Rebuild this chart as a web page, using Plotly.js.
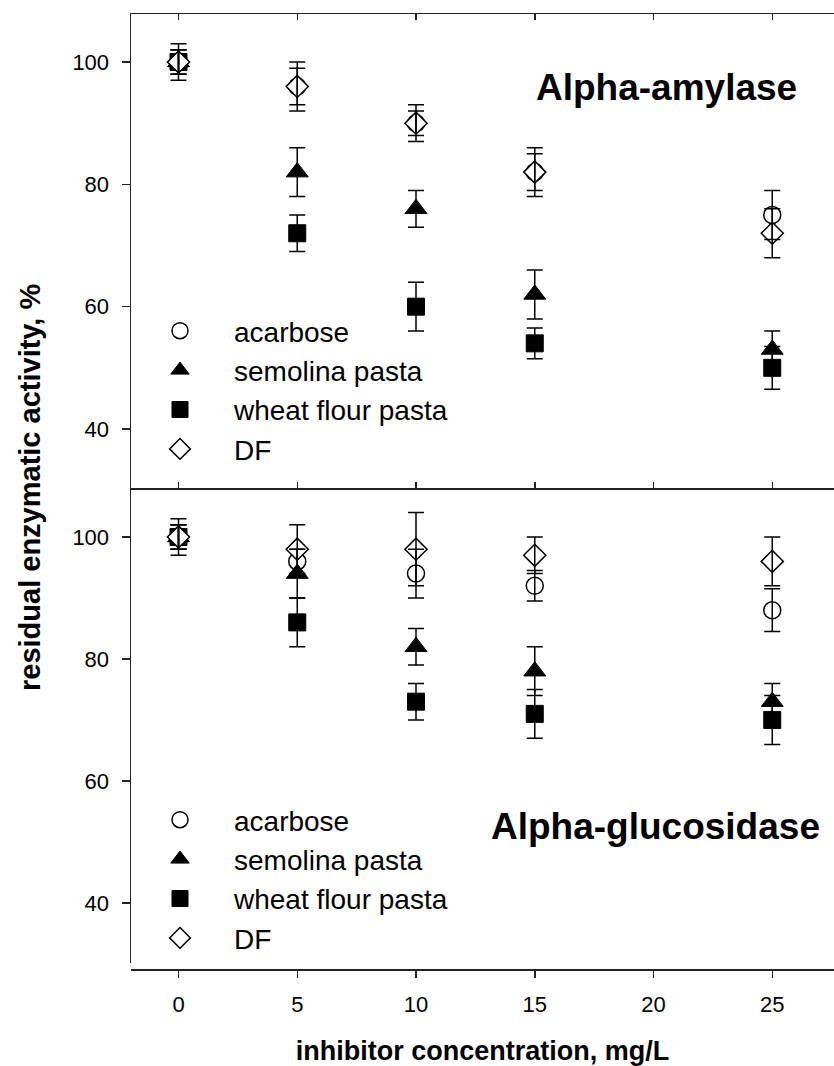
<!DOCTYPE html>
<html><head><meta charset="utf-8">
<script src="https://cdn.plot.ly/plotly-3.0.1.min.js"></script>
<style>html,body{margin:0;padding:0;background:#fff;overflow:hidden}</style>
</head><body><div id="chart" style="width:834px;height:1066px"></div>
<script>
// ---- data ----
const conc = [0, 5, 10, 15, 25];
const seriesNames = ['acarbose', 'semolina pasta', 'wheat flour pasta', 'DF'];
// Alpha-amylase panel
const amyAcarbose = [100, 96, 90, 82, 75];
const amyAcarboseErr = [3, 3, 2, 3, 4];
const amySemolina = [100, 82, 76, 62, 53];
const amySemolinaErr = [2, 4, 3, 4, 3];
const amyWheat = [100, 72, 60, 54, 50];
const amyWheatErr = [2, 3, 4, 2.5, 3.5];
const amyDF = [100, 96, 90, 82, 72];
const amyDFErr = [2, 4, 3, 4, 4];
// Alpha-glucosidase panel
const gluAcarbose = [100, 96, 94, 92, 88];
const gluAcarboseErr = [3, 2, 4, 2.5, 3.5];
const gluSemolina = [100, 94, 82, 78, 73];
const gluSemolinaErr = [2, 4, 3, 4, 3];
const gluWheat = [100, 86, 73, 71, 70];
const gluWheatErr = [2, 4, 3, 4, 4];
const gluDF = [100, 98, 98, 97, 96];
const gluDFErr = [2, 4, 6, 3, 4];
// ticks / labels
const xTickVals = [0, 5, 10, 15, 20, 25];
const yTickVals = [40, 60, 80, 100];
const panelTitles = ['Alpha-amylase', 'Alpha-glucosidase'];
const xTitle = 'inhibitor concentration, mg/L';
const yTitle = 'residual enzymatic activity, %';

// ---- styles ----
const FONT = 'Liberation Sans, Arial, sans-serif';
const markerStyles = [
  {symbol: 'circle', size: 17, color: '#fff', line: {color: '#000', width: 1.5}},
  {symbol: 'triangle-up', size: 19, color: '#000', line: {color: '#000', width: 1}},
  {symbol: 'square', size: 17, color: '#000', line: {color: '#000', width: 1}},
  {symbol: 'diamond', size: 17, color: '#fff', line: {color: '#000', width: 1.5}}
];
const panels = [
  {xa: 'x', ya: 'y', legend: 'legend', vals: [amyAcarbose, amySemolina, amyWheat, amyDF],
   errs: [amyAcarboseErr, amySemolinaErr, amyWheatErr, amyDFErr]},
  {xa: 'x2', ya: 'y2', legend: 'legend2', vals: [gluAcarbose, gluSemolina, gluWheat, gluDF],
   errs: [gluAcarboseErr, gluSemolinaErr, gluWheatErr, gluDFErr]}
];

const traces = [];
panels.forEach((p, pi) => {
  p.vals.forEach((v, i) => {
    traces.push({
      type: 'scatter', mode: 'markers', x: conc, y: v,
      xaxis: p.xa, yaxis: p.ya, legend: p.legend,
      name: seriesNames[i], legendgroup: 'g' + pi + i,
      marker: markerStyles[i], hoverinfo: 'skip'
    });
  });
});
// error bars drawn on top of the markers
panels.forEach((p, pi) => {
  p.vals.forEach((v, i) => {
    traces.push({
      type: 'scatter', mode: 'markers', x: conc, y: v,
      xaxis: p.xa, yaxis: p.ya, showlegend: false, hoverinfo: 'skip',
      marker: {size: 1, opacity: 0},
      error_y: {type: 'data', array: p.errs[i], visible: true, color: '#000', thickness: 1.5, width: 8}
    });
  });
});

const H = 1066, mt = 14, mb = 97, ml = 131;
const ph = H - mt - mb;           // plot height in px
const pw = 834 - ml;
const py = px => (H - mb - px) / ph;  // pixel y -> paper
const pxx = px => (px - ml) / pw;      // pixel x -> paper

const axisCommon = {
  showgrid: false, zeroline: false, showline: true, linecolor: '#222', linewidth: 1.5,
  tickcolor: '#222', tickwidth: 1.5
};
const divider = py(488);

const layout = {
  width: 834, height: 1066,
  margin: {l: ml, r: 0, t: mt, b: mb},
  paper_bgcolor: '#fff', plot_bgcolor: '#fff',
  font: {family: FONT, color: '#000'},
  showlegend: true,
  xaxis: Object.assign({}, axisCommon, {
    domain: [0, 1], anchor: 'y', range: [-2, 27.6], tickvals: xTickVals,
    ticks: 'inside', ticklen: 6, mirror: 'allticks', showticklabels: false
  }),
  yaxis: Object.assign({}, axisCommon, {
    domain: [divider, 1], anchor: 'x', range: [30.35, 107.85], tickvals: yTickVals,
    ticks: 'outside', ticklen: 8, ticklabelstandoff: 8,
    tickfont: {family: FONT, size: 22, color: '#000'}
  }),
  xaxis2: Object.assign({}, axisCommon, {
    domain: [0, 1], anchor: 'free', position: 0, range: [-2, 27.6], tickvals: xTickVals,
    ticks: 'outside', ticklen: 7, ticklabelstandoff: 8,
    tickfont: {family: FONT, size: 22, color: '#000'},
    title: {text: '<b>' + xTitle + '</b>', font: {family: FONT, size: 27, color: '#000'}, standoff: 28}
  }),
  yaxis2: Object.assign({}, axisCommon, {
    domain: [py(963), divider], anchor: 'x2', range: [30.16, 108.03], tickvals: yTickVals,
    ticks: 'outside', ticklen: 8, ticklabelstandoff: 8,
    tickfont: {family: FONT, size: 22, color: '#000'}
  }),
  legend: {
    x: pxx(126), xanchor: 'left', y: py(306), yanchor: 'top',
    bgcolor: 'rgba(0,0,0,0)', itemwidth: 98, tracegroupgap: 0, traceorder: 'normal',
    font: {family: FONT, size: 28, color: '#000'}
  },
  legend2: {
    x: pxx(126), xanchor: 'left', y: py(795), yanchor: 'top',
    bgcolor: 'rgba(0,0,0,0)', itemwidth: 98, tracegroupgap: 0, traceorder: 'normal',
    font: {family: FONT, size: 28, color: '#000'}
  },
  annotations: [
    {text: '<b>' + panelTitles[0] + '</b>', xref: 'paper', yref: 'paper',
     x: pxx(666), y: py(88), xanchor: 'center', yanchor: 'middle', showarrow: false,
     font: {family: FONT, size: 37, color: '#000'}},
    {text: '<b>' + panelTitles[1] + '</b>', xref: 'paper', yref: 'paper',
     x: pxx(655), y: py(826), xanchor: 'center', yanchor: 'middle', showarrow: false,
     font: {family: FONT, size: 37, color: '#000'}},
    {text: '<b>' + yTitle + '</b>', xref: 'paper', yref: 'paper',
     x: pxx(30), y: py(488), xanchor: 'center', yanchor: 'middle', showarrow: false, textangle: -90,
     font: {family: FONT, size: 29, color: '#000'}}
  ]
};

Plotly.newPlot('chart', traces, layout, {displayModeBar: false, staticPlot: true});
</script>
</body></html>
